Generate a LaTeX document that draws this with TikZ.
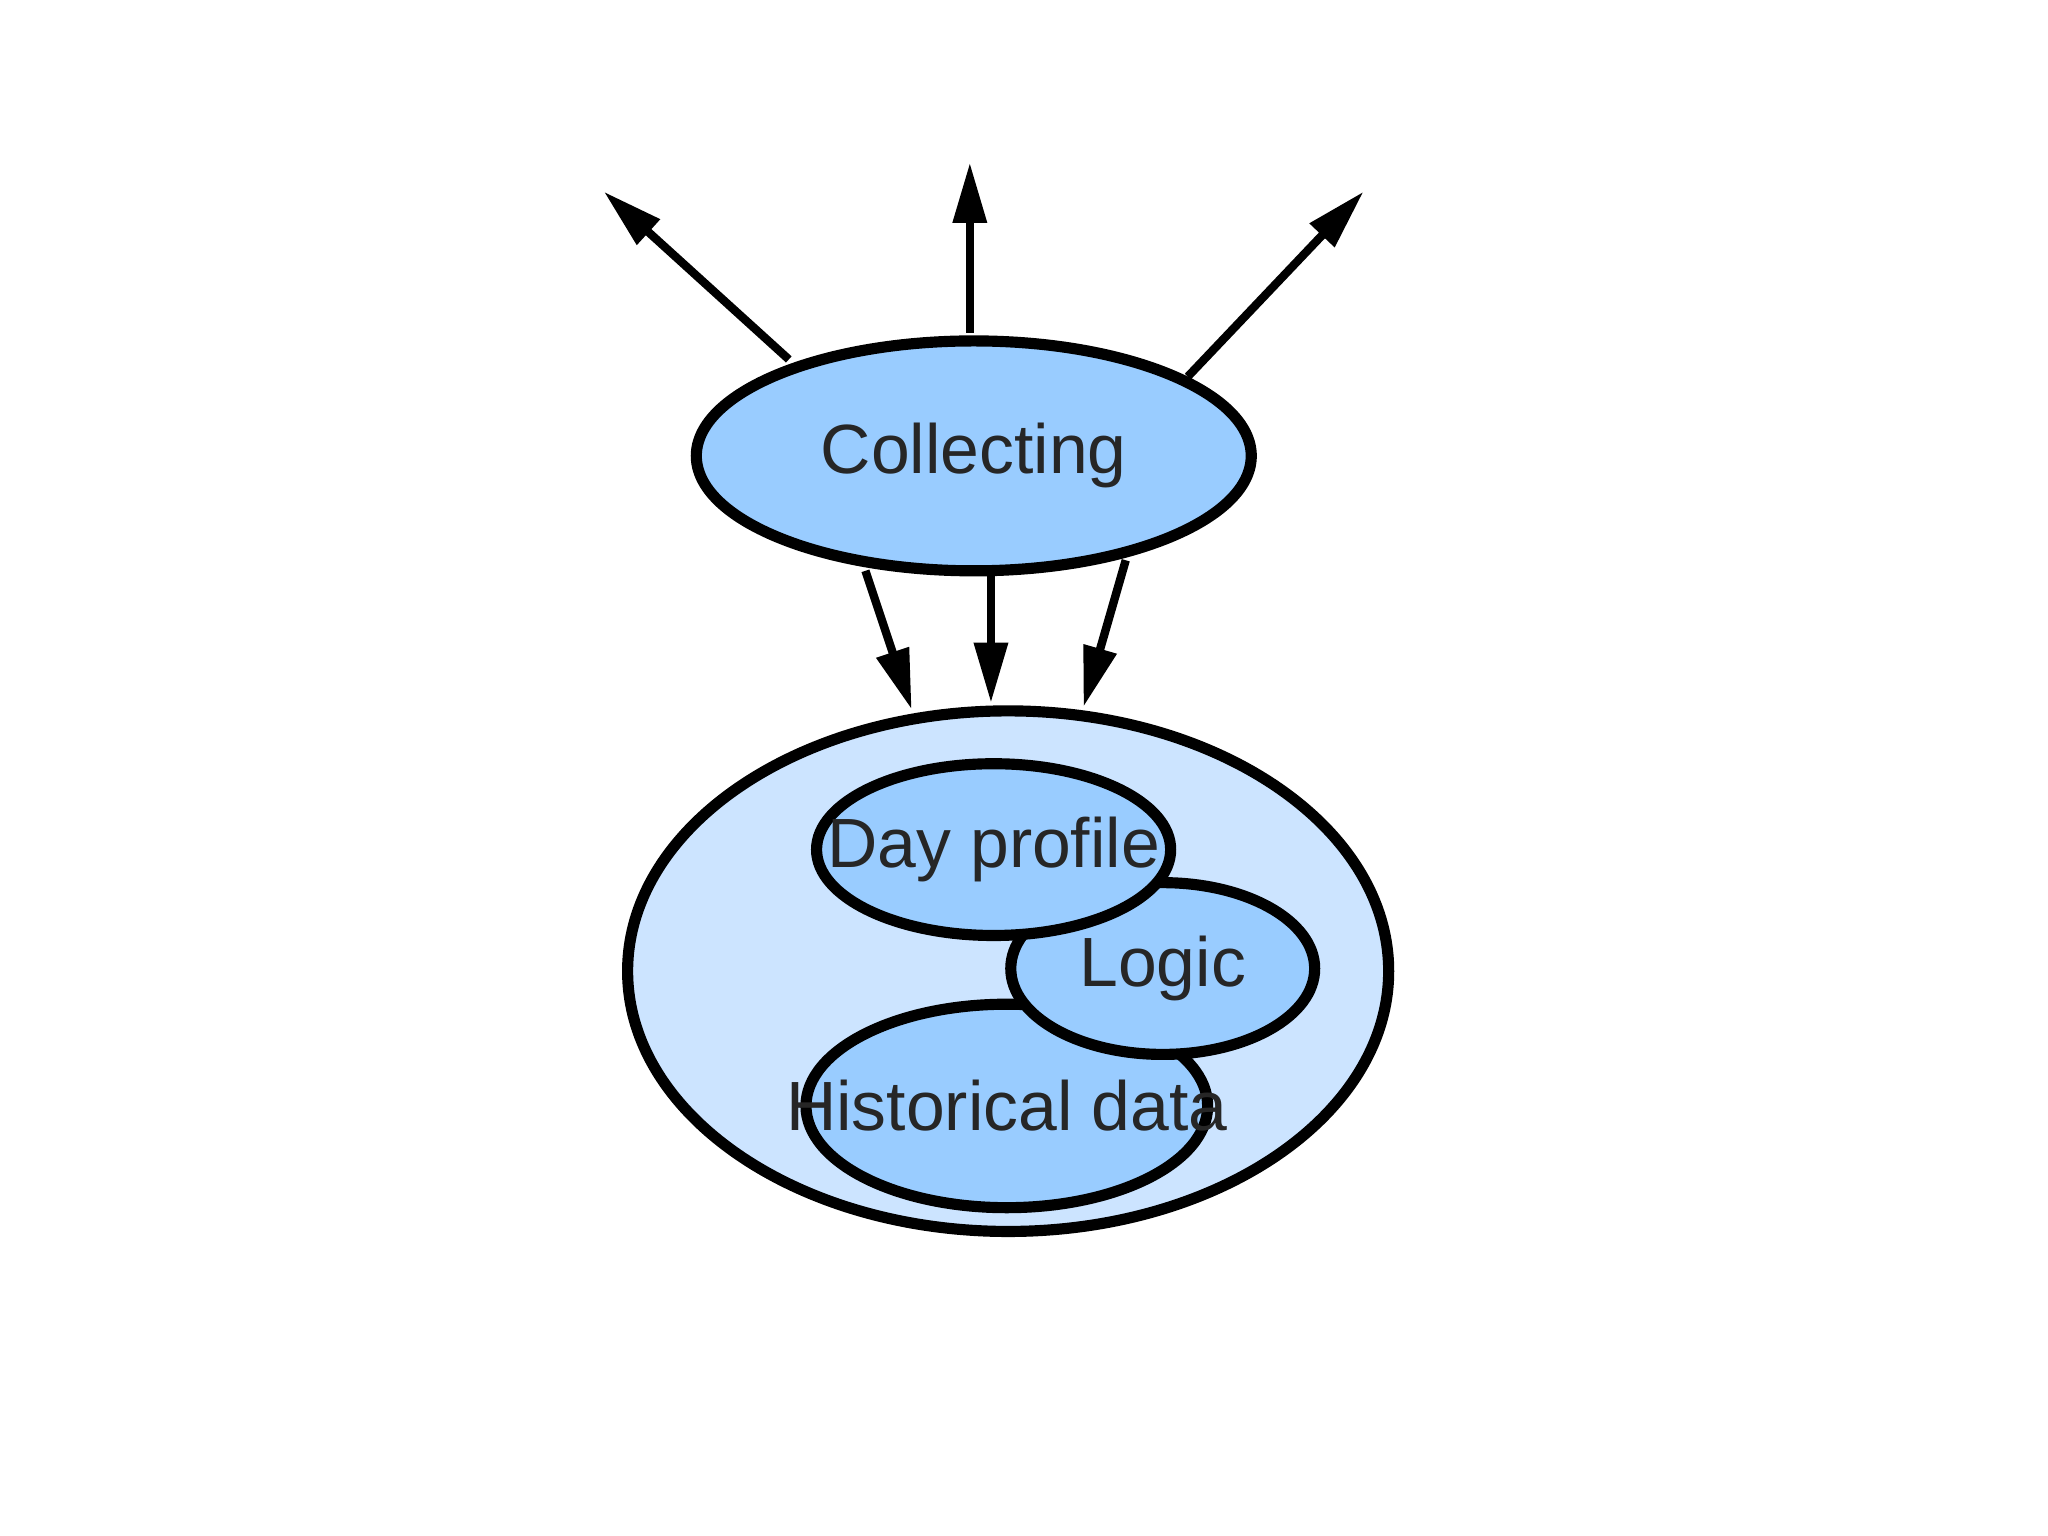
\documentclass[tikz,border=0pt]{standalone}
\usepackage{fontspec}
\setmainfont{Liberation Sans}
\usetikzlibrary{arrows.meta}
\definecolor{fillA}{HTML}{99CCFF}
\definecolor{fillB}{HTML}{CCE4FF}
\begin{document}
\begin{tikzpicture}[x=0.01cm,y=-0.01cm,
  ell/.style={draw=black,line width=2.4pt,fill=fillA},
  lbl/.style={font=\fontsize{15}{17}\selectfont,text=black!85},
  arr/.style={line width=1.8pt,-{Stealth[length=13pt,width=7pt,inset=0pt]}}]
\useasboundingbox (0,0) rectangle (1550,1162);
\draw[ell] (737,345) ellipse [x radius=210,y radius=87];
\node[lbl] (col) at (737,345) {Collecting};
\draw[ell,fill=fillB] (763,735) ellipse [x radius=288,y radius=197];
\coordinate (big) at (763,735);
\draw[ell] (762,837) ellipse [x radius=152,y radius=77];
\node[lbl] (hist) at (762,837) {Historical data};
\draw[ell] (880,733) ellipse [x radius=115,y radius=65];
\node[lbl] (logic) at (880,733) {Logic};
\draw[ell] (752,643) ellipse [x radius=134,y radius=65];
\node[lbl] (day) at (752,643) {Day profile};
\coordinate (s1) at (597,272); \coordinate (e1) at (457,145);
\coordinate (s2) at (734,252); \coordinate (e2) at (734,123);
\coordinate (s3) at (899,285); \coordinate (e3) at (1032,145);
\coordinate (s4) at (655,432); \coordinate (e4) at (690,537);
\coordinate (s5) at (750,435); \coordinate (e5) at (750,532);
\coordinate (s6) at (852,424); \coordinate (e6) at (820,535);
\foreach \i in {1,...,6} \draw[arr] (s\i) -- (e\i);
\end{tikzpicture}
\end{document}
